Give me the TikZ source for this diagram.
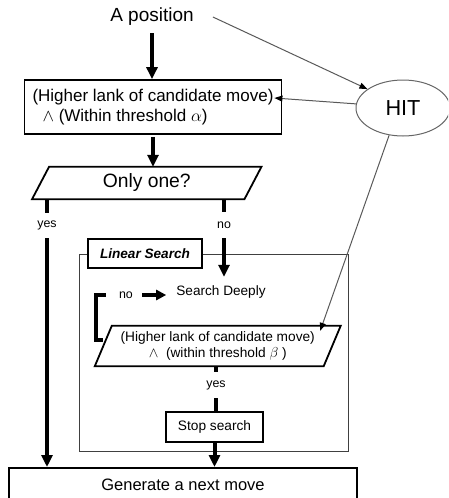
\documentclass[tikz,border=0pt]{standalone}
\usepackage{fontspec}
\setmainfont{Liberation Sans}
\usetikzlibrary{arrows.meta,shapes.geometric,calc}
\begin{document}
\begin{tikzpicture}[x=1pt,y=-1pt,
  bigarrow/.style={line width=4pt,-{Triangle[width=11pt,length=12pt]}},
  midarrow/.style={line width=3.5pt,-{Triangle[width=10pt,length=10pt]}},
  bigline/.style={line width=4pt},
  thinarrow/.style={line width=1pt,draw=black!65,-{Triangle[width=6pt,length=8pt,color=black]}},
  boxline/.style={draw,line width=1.8pt},
  lbl/.style={inner sep=0pt,font=\fontsize{12.4}{14}\selectfont,minimum height=25pt}]
\useasboundingbox (0,0) rectangle (448,498);
\clip (0,0) rectangle (448,498);

% nodes
\node[inner sep=0pt,font=\fontsize{19}{22}\selectfont] (apos) at (152,17) {A position};
\node[boxline,minimum width=257,minimum height=54,inner sep=0pt,align=left,
      font=\fontsize{17}{20}\selectfont] (box1) at (153,107)
      {(Higher lank of candidate move)\\\hspace*{10pt}$\wedge$ (Within threshold $\alpha$)};
\node[ellipse,draw=black!60,line width=1pt,minimum width=94,minimum height=56,inner sep=0pt,
      font=\fontsize{21.7}{24}\selectfont] (hit) at (403,108) {HIT};
\node[inner sep=0pt,minimum width=212,minimum height=32,font=\fontsize{19.3}{22}\selectfont]
      (p1) at (146.75,183) {Only one?};
\draw[boxline] ($(p1.north west)+(8.5,0)$) -- ($(p1.north east)+(8.5,0)$)
  -- ($(p1.south east)+(-8.5,0)$) -- ($(p1.south west)+(-8.5,0)$) -- cycle;

\node[lbl] (yes1) at (47,225.5) {yes};
\node[lbl,minimum height=26] (no1) at (224,225) {no};

\node[draw=black!75,line width=1pt,minimum width=269,minimum height=197,inner sep=0pt]
      (frame) at (213.5,352.5) {};
\node[boxline,fill=white,minimum width=114,minimum height=29,inner sep=0pt,
      font=\fontsize{13.6}{16}\selectfont\bfseries\itshape] (ls) at (145,253.5) {Linear Search};

\node[inner sep=0pt,minimum height=30,font=\fontsize{13.6}{16}\selectfont] (sd) at (221,292) {Search Deeply};
\node[lbl] (no2) at (126,295) {no};

\node[inner sep=0pt,minimum width=228.5,minimum height=40,align=center,
      font=\fontsize{13.7}{16}\selectfont] (p2) at (217.75,346)
      {(Higher lank of candidate move)\\$\wedge$\ \ (within threshold $\beta$ )};
\draw[boxline] ($(p2.north west)+(8.5,0)$) -- ($(p2.north east)+(8.5,0)$)
  -- ($(p2.south east)+(-8.5,0)$) -- ($(p2.south west)+(-8.5,0)$) -- cycle;

\node[lbl,minimum height=26] (yes2) at (216,385) {yes};
\node[boxline,minimum width=97,minimum height=30,inner sep=0pt,
      font=\fontsize{13.7}{16}\selectfont] (stop) at (214.5,427) {Stop search};
\node[boxline,minimum width=348,minimum height=34,inner sep=0pt,anchor=north,
      font=\fontsize{16.5}{19}\selectfont] (gen) at (183,467) {Generate a next move};

% thick connectors
\draw[bigarrow] ([yshift=-7pt]apos.south) -- (apos.south |- box1.north);
\draw[bigarrow] ([yshift=-2pt]box1.south) -- (box1.south |- p1.north);
\draw[bigline] (yes1 |- p1.south) -- (yes1.north);
\draw[bigarrow] (yes1.south) -- (yes1.south |- gen.north);
\draw[bigline] (no1 |- p1.south) -- (no1.north);
\draw[bigarrow] (no1.south) -- (no1.south |- sd.north);
\draw[midarrow] ([xshift=9pt]no2.east) -- ([xshift=-10pt]sd.west |- no2.east);
\draw[line width=3.5pt] ([xshift=-13pt]no2.west) -- ++(-10,0) |- ([yshift=6pt]p2.west);
\draw[bigline] (p2.south -| yes2) -- (yes2.north);
\draw[bigline] (yes2.south) -- (yes2.south |- stop.north);
\draw[bigarrow] (stop.south) -- (stop.south |- gen.north);

% thin connectors
\coordinate (b1hit) at ($(box1.east)+(-8,-9)$);
\coordinate (p2hit) at ($(p2.north east)+(-12,5)$);
\draw[thinarrow] ([xshift=19pt]apos.east) -- (hit.152);
\draw[thinarrow] (hit.175) -- (b1hit);
\draw[thinarrow] (hit.243) -- (p2hit);
\end{tikzpicture}
\end{document}
